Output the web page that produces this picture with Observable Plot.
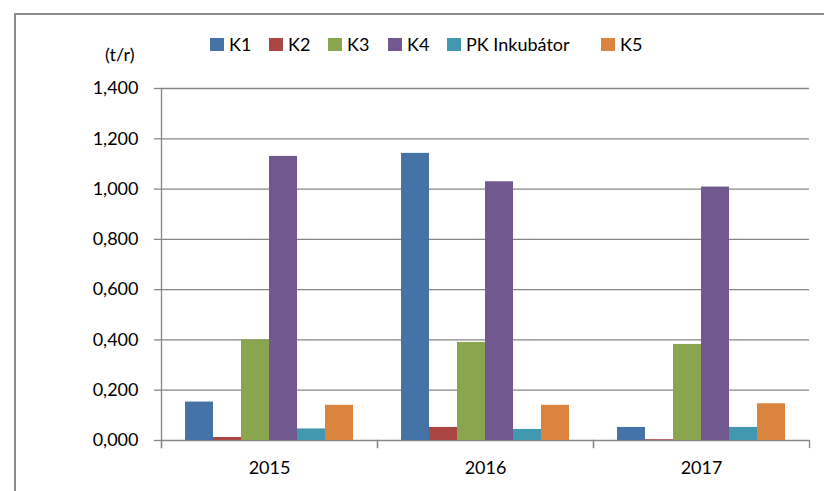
<!DOCTYPE html>
<html>
<head>
<meta charset="utf-8">
<script src="https://cdn.jsdelivr.net/npm/d3@7"></script>
<script src="https://cdn.jsdelivr.net/npm/@observablehq/plot@0.6"></script>
<style>
  html, body { margin: 0; padding: 0; background: #fff; }
  #wrap { position: relative; width: 824px; height: 491px; overflow: hidden; font-family: Lato, "Open Sans", sans-serif; }
  #border { position: absolute; left: 14px; top: 13px; width: 900px; height: 600px; border-left: 2px solid #8c8c8c; border-top: 2px solid #8c8c8c; box-sizing: border-box; }
  #unit { position: absolute; left: 105px; top: 43px; font-size: 18px; line-height: 22px; color: #000; }
  #legend { position: absolute; left: 0; top: 33px; width: 824px; height: 22px; font-size: 18px; line-height: 22px; color: #000; }
  .item { position: absolute; top: 0; display: flex; align-items: center; height: 22px; white-space: nowrap; }
  .sw { width: 14px; height: 13px; margin-right: 5px; }
  #chart { position: absolute; left: 0; top: 0; }
</style>
</head>
<body>
<div id="wrap">
  <div id="border"></div>
  <div id="unit">(t/r)</div>
  <div id="legend"></div>
  <div id="chart"></div>
</div>
<script>
const years = ["2015", "2016", "2017"];
const series = ["K1", "K2", "K3", "K4", "PK Inkubátor", "K5"];
const colors = ["#4572A7", "#AA4643", "#89A54E", "#71588F", "#4198AF", "#DB843D"];
const K1 = [0.153, 1.142, 0.052];
const K2 = [0.012, 0.052, 0.003];
const K3 = [0.400, 0.390, 0.382];
const K4 = [1.130, 1.029, 1.008];
const PK = [0.046, 0.044, 0.052];
const K5 = [0.140, 0.140, 0.146];
const yTicks = [0, 0.2, 0.4, 0.6, 0.8, 1.0, 1.2, 1.4];
const legendX = [210, 269, 328, 388, 447, 601];

const valuesBySeries = [K1, K2, K3, K4, PK, K5];
const data = [];
years.forEach((yr, i) => {
  series.forEach((s, j) => data.push({year: yr, series: s, value: valuesBySeries[j][i]}));
});

const fmt = d => d.toFixed(3).replace(".", ",");
const gridColor = "#868686";

const plot = Plot.plot({
  width: 824,
  height: 491,
  marginLeft: 160,
  marginRight: 14,
  marginTop: 88,
  marginBottom: 51,
  style: {fontFamily: "Lato, 'Open Sans', sans-serif", fontSize: "18px", color: "#000", background: "transparent", overflow: "visible"},
  fx: {domain: years, padding: 0, label: null},
  x: {domain: series, paddingInner: 0, paddingOuter: 0.75, axis: null},
  y: {domain: [0, 1.4], label: null},
  color: {domain: series, range: colors},
  marks: [
    Plot.ruleY(yTicks, {stroke: gridColor, strokeWidth: 1.3}),
    Plot.barY(data, {fx: "year", x: "series", y: "value", fill: "series", inset: 0}),
    Plot.axisY({ticks: yTicks, tickFormat: fmt, tickSize: 7, tickPadding: 16, stroke: gridColor, strokeWidth: 1.3, strokeOpacity: 1, label: null, fontSize: 18}),
    Plot.axisFx({anchor: "bottom", tickSize: 0, tickPadding: 21, label: null, fontSize: 18}),
    Plot.frame({anchor: "left", facetAnchor: "left", stroke: gridColor, strokeWidth: 1.3, strokeOpacity: 1, insetBottom: -7}),
    Plot.frame({anchor: "left", stroke: gridColor, strokeWidth: 1.3, strokeOpacity: 1, insetTop: 352, insetBottom: -7}),
    Plot.frame({anchor: "right", stroke: gridColor, strokeWidth: 1.3, strokeOpacity: 1, insetTop: 352, insetBottom: -7})
  ]
});
document.getElementById("chart").appendChild(plot);

const legend = document.getElementById("legend");
series.forEach((s, j) => {
  const it = document.createElement("div");
  it.className = "item";
  it.style.left = legendX[j] + "px";
  const sw = document.createElement("div");
  sw.className = "sw";
  sw.style.background = colors[j];
  const tx = document.createElement("span");
  tx.textContent = s;
  it.appendChild(sw);
  it.appendChild(tx);
  legend.appendChild(it);
});
</script>
</body>
</html>
